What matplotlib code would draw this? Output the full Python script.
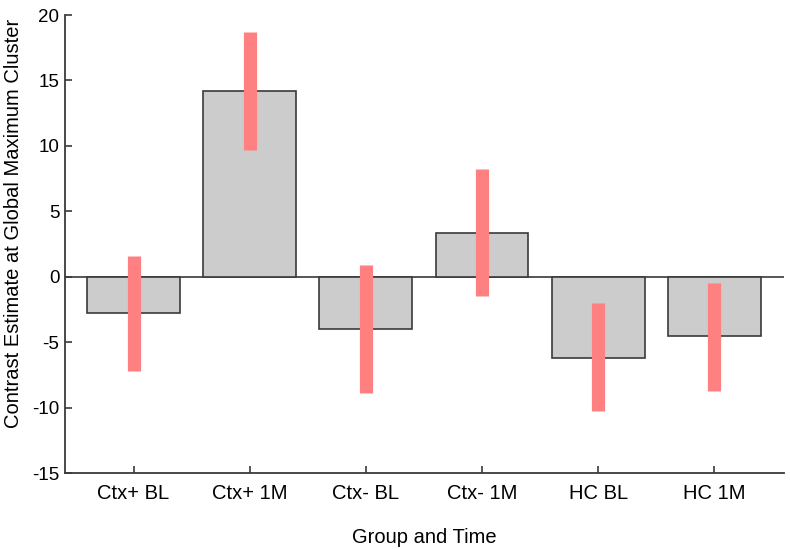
import matplotlib
matplotlib.use("Agg")
import matplotlib.pyplot as plt
import numpy as np

plt.rcParams['font.family'] = ['Liberation Sans', 'DejaVu Sans']
plt.rcParams['axes.unicode_minus'] = False

# data
groups = ['Ctx+ BL', 'Ctx+ 1M', 'Ctx- BL', 'Ctx- 1M', 'HC BL', 'HC 1M']
means = [-2.8, 14.2, -4.0, 3.35, -6.2, -4.55]
ci_low = [-7.2, 9.7, -8.9, -1.5, -10.3, -8.7]
ci_high = [1.6, 18.7, 0.9, 8.2, -2.0, -0.5]

edge = '#3a3a3a'
x = np.arange(1, len(groups) + 1)

fig = plt.figure(figsize=(7.9, 5.5), dpi=100)
ax = fig.add_axes([0.0823, 0.14, 0.910, 0.8327])

ax.axhline(0, color=edge, lw=1.2, zorder=1)
ax.bar(x, means, width=0.8, color='#cccccc', edgecolor=edge, linewidth=1.2, zorder=2)

# confidence intervals as thick red strokes
lo = np.array(means) - np.array(ci_low)
hi = np.array(ci_high) - np.array(means)
ax.errorbar(x, means, yerr=[lo, hi], fmt='none', ecolor='#ff8080',
            elinewidth=9.5, capsize=0, zorder=3)

ax.set_xlim(0.41, 6.6)
ax.set_ylim(-15, 20)
ax.set_yticks(np.arange(-15, 21, 5))
ax.set_xticks(x)
ax.set_xticklabels(groups)

for s in ['top', 'right']:
    ax.spines[s].set_visible(False)
for s in ['left', 'bottom']:
    ax.spines[s].set_color(edge)
    ax.spines[s].set_linewidth(1.3)

ax.tick_params(direction='in', length=5, width=1.2, color=edge, labelcolor='black')
ax.tick_params(axis='x', pad=8, labelsize=14.5)
ax.tick_params(axis='y', pad=4, labelsize=13.5)

ax.set_xlabel('Group and Time', fontsize=14.5, labelpad=18)
ax.set_ylabel('Contrast Estimate at Global Maximum Cluster', fontsize=14.5)
ax.yaxis.set_label_coords(-0.058, 0.546)

fig.savefig('out.png', dpi=100)
